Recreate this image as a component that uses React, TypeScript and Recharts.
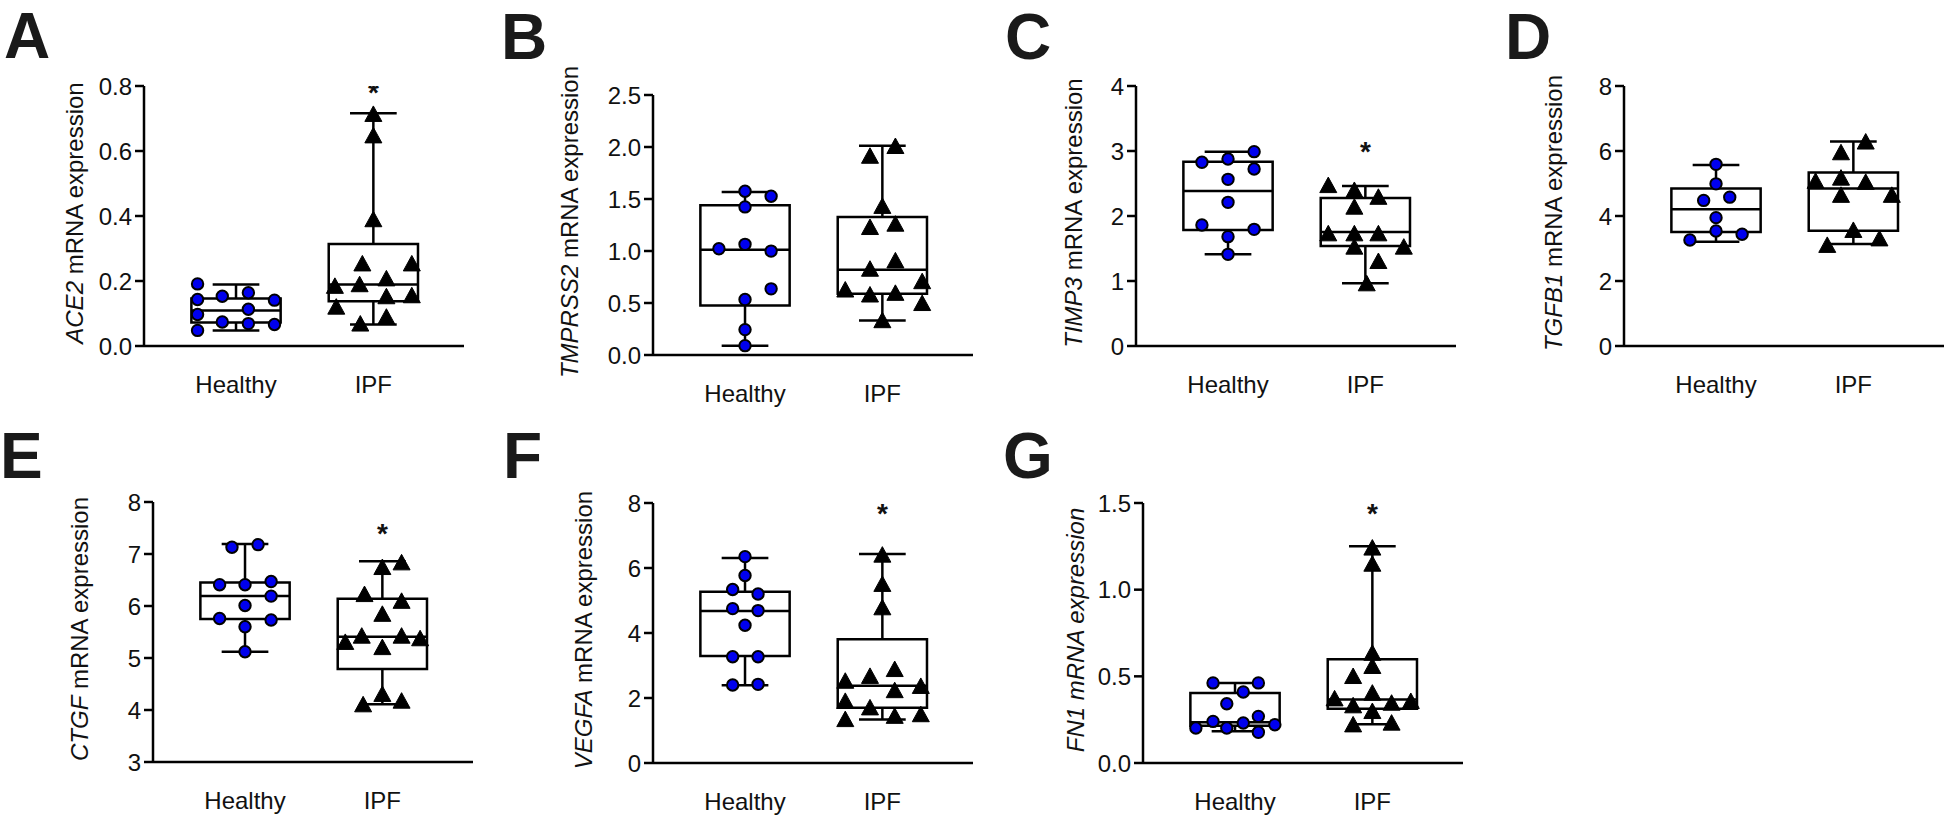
import { ScatterChart, Scatter, XAxis, YAxis, ReferenceArea, ReferenceLine } from 'recharts'

const groups = ['Healthy', 'IPF']

// ACE2
const ace2Healthy = [0.191, 0.143, 0.097, 0.048, 0.153, 0.074, 0.164, 0.113, 0.069, 0.141, 0.066]
const ace2HealthySpread = [-0.28, -0.28, -0.28, -0.28, -0.1, -0.1, 0.09, 0.09, 0.09, 0.28, 0.28]
const ace2Ipf = [0.711, 0.645, 0.387, 0.251, 0.251, 0.182, 0.187, 0.205, 0.15, 0.153, 0.118, 0.087, 0.066]
const ace2IpfSpread = [0, 0, 0, -0.08, 0.28, -0.28, -0.1, 0.095, 0.095, 0.28, -0.27, 0.095, -0.095]
const ace2HealthyBox = [0.048, 0.072, 0.109, 0.146, 0.189]
const ace2IpfBox = [0.066, 0.138, 0.189, 0.314, 0.716]
const ace2Ticks = [0, 0.2, 0.4, 0.6, 0.8]

// TMPRSS2
const tmprss2Healthy = [1.575, 1.526, 1.424, 1.022, 1.064, 0.999, 0.636, 0.533, 0.244, 0.09]
const tmprss2HealthySpread = [0, 0.19, 0, -0.19, 0, 0.19, 0.19, 0, 0, 0]
const tmprss2Ipf = [2.0, 1.906, 1.424, 1.221, 1.253, 0.9, 0.82, 0.62, 0.7, 0.572, 0.588, 0.49, 0.325]
const tmprss2IpfSpread = [0.095, -0.09, 0, -0.09, 0.095, 0.095, -0.09, -0.27, 0.29, -0.09, 0.095, 0.29, 0]
const tmprss2HealthyBox = [0.09, 0.476, 1.012, 1.44, 1.568]
const tmprss2IpfBox = [0.331, 0.588, 0.819, 1.327, 2.012]
const tmprss2Ticks = [0, 0.5, 1, 1.5, 2, 2.5]

// TIMP3
const timp3Healthy = [2.99, 2.826, 2.877, 2.723, 2.564, 2.21, 1.862, 1.795, 1.682, 1.41]
const timp3HealthySpread = [0.19, -0.19, 0, 0.19, 0, 0, -0.19, 0.19, 0, 0]
const timp3Ipf = [2.46, 2.385, 2.28, 2.128, 1.718, 1.718, 1.718, 1.513, 1.513, 1.292, 0.949]
const timp3IpfSpread = [-0.27, -0.08, 0.095, -0.08, -0.27, -0.08, 0.095, -0.08, 0.28, 0.095, 0.01]
const timp3HealthyBox = [1.41, 1.785, 2.385, 2.836, 2.99]
const timp3IpfBox = [0.964, 1.538, 1.754, 2.277, 2.46]
const timp3Ticks = [0, 1, 2, 3, 4]

// TGFB1
const tgfb1Healthy = [5.59, 4.99, 4.48, 4.58, 3.95, 3.54, 3.44, 3.26]
const tgfb1HealthySpread = [0, 0, -0.09, 0.1, 0, 0, 0.19, -0.19]
const tgfb1Ipf = [6.26, 5.93, 5.05, 5.15, 5.02, 4.62, 4.62, 3.54, 3.08, 3.28]
const tgfb1IpfSpread = [0.09, -0.09, -0.275, -0.09, 0.09, -0.09, 0.28, 0, -0.19, 0.19]
const tgfb1HealthyBox = [3.21, 3.51, 4.205, 4.85, 5.57]
const tgfb1IpfBox = [3.14, 3.55, 4.85, 5.34, 6.29]
const tgfb1Ticks = [0, 2, 4, 6, 8]

// CTGF
const ctgfHealthy = [7.13, 7.18, 6.41, 6.41, 6.47, 6.19, 6.01, 5.76, 5.73, 5.6, 5.12]
const ctgfHealthySpread = [-0.095, 0.095, -0.185, 0, 0.19, 0.19, 0, -0.185, 0.19, 0, 0]
const ctgfIpf = [6.82, 6.73, 6.21, 6.08, 5.83, 5.41, 5.41, 5.29, 5.36, 5.19, 4.29, 4.09, 4.16]
const ctgfIpfSpread = [0.14, 0, -0.13, 0.14, 0, -0.15, 0.14, -0.27, 0.275, 0, 0, -0.14, 0.14]
const ctgfHealthyBox = [5.12, 5.75, 6.19, 6.45, 7.19]
const ctgfIpfBox = [4.11, 4.79, 5.41, 6.14, 6.86]
const ctgfTicks = [3, 4, 5, 6, 7, 8]

// VEGFA
const vegfaHealthy = [6.35, 5.77, 5.34, 5.2, 4.75, 4.69, 4.24, 3.27, 3.27, 2.4, 2.42]
const vegfaHealthySpread = [0, 0, -0.09, 0.095, -0.09, 0.095, 0, -0.09, 0.095, -0.09, 0.095]
const vegfaIpf = [6.38, 5.48, 4.76, 2.5, 2.65, 2.86, 2.21, 2.34, 1.88, 1.68, 1.32, 1.42, 1.47]
const vegfaIpfSpread = [0, 0, 0, -0.27, -0.09, 0.09, 0.09, 0.28, -0.27, -0.09, -0.27, 0.09, 0.28]
const vegfaHealthyBox = [2.39, 3.29, 4.68, 5.27, 6.31]
const vegfaIpfBox = [1.34, 1.7, 2.38, 3.81, 6.43]
const vegfaTicks = [0, 2, 4, 6, 8]

// FN1
const fn1Healthy = [0.462, 0.462, 0.41, 0.342, 0.269, 0.24, 0.231, 0.202, 0.202, 0.221, 0.177]
const fn1HealthySpread = [-0.16, 0.17, 0.06, -0.06, 0.17, -0.16, 0.06, -0.285, -0.06, 0.29, 0.17]
const fn1Ipf = [1.237, 1.144, 0.63, 0.554, 0.496, 0.367, 0.4, 0.352, 0.327, 0.342, 0.294, 0.217, 0.227]
const fn1IpfSpread = [0, 0, 0, 0, -0.14, -0.275, 0, 0.28, -0.14, 0.14, 0, -0.14, 0.14]
const fn1HealthyBox = [0.183, 0.215, 0.235, 0.404, 0.462]
const fn1IpfBox = [0.223, 0.313, 0.367, 0.598, 1.25]
const fn1Ticks = [0, 0.5, 1, 1.5]

const FONT = "'Liberation Sans', Arial, Helvetica, sans-serif"
const INK = '#111'
const BLUE = '#0000ee'
const LINE = 2.5
const Y_W = 80
const X_H = 50
const PLOT_W = 320
const PLOT_H = 260
const BOX_HALF = 0.325
const CAP_HALF = 0.17

const toPoints = (values: number[], spread: number[], group: number) =>
  values.map((y, i) => ({ x: group + spread[i], y }))

const panels = [
  { letter: 'A', gene: 'ACE2', allItalic: false, healthy: toPoints(ace2Healthy, ace2HealthySpread, 1), ipf: toPoints(ace2Ipf, ace2IpfSpread, 2), hBox: ace2HealthyBox, iBox: ace2IpfBox, ticks: ace2Ticks, dec: 1, star: 0.796,
    ox: 0, oy: 0, w: 490, h: 410, left: 144, top: 86, labelOff: 70, lx: 4, ly: 4 },
  { letter: 'B', gene: 'TMPRSS2', allItalic: false, healthy: toPoints(tmprss2Healthy, tmprss2HealthySpread, 1), ipf: toPoints(tmprss2Ipf, tmprss2IpfSpread, 2), hBox: tmprss2HealthyBox, iBox: tmprss2IpfBox, ticks: tmprss2Ticks, dec: 1, star: null,
    ox: 490, oy: 0, w: 490, h: 410, left: 653, top: 95, labelOff: 84, lx: 501, ly: 5 },
  { letter: 'C', gene: 'TIMP3', allItalic: false, healthy: toPoints(timp3Healthy, timp3HealthySpread, 1), ipf: toPoints(timp3Ipf, timp3IpfSpread, 2), hBox: timp3HealthyBox, iBox: timp3IpfBox, ticks: timp3Ticks, dec: 0, star: 3.07,
    ox: 980, oy: 0, w: 490, h: 410, left: 1136, top: 86, labelOff: 63, lx: 1005, ly: 5 },
  { letter: 'D', gene: 'TGFB1', allItalic: false, healthy: toPoints(tgfb1Healthy, tgfb1HealthySpread, 1), ipf: toPoints(tgfb1Ipf, tgfb1IpfSpread, 2), hBox: tgfb1HealthyBox, iBox: tgfb1IpfBox, ticks: tgfb1Ticks, dec: 0, star: null,
    ox: 1460, oy: 0, w: 486, h: 410, left: 1624, top: 86, labelOff: 71, lx: 1505, ly: 5 },
  { letter: 'E', gene: 'CTGF', allItalic: false, healthy: toPoints(ctgfHealthy, ctgfHealthySpread, 1), ipf: toPoints(ctgfIpf, ctgfIpfSpread, 2), hBox: ctgfHealthyBox, iBox: ctgfIpfBox, ticks: ctgfTicks, dec: 0, star: 7.5,
    ox: 0, oy: 400, w: 490, h: 419, left: 153, top: 502, labelOff: 74, lx: 0, ly: 424 },
  { letter: 'F', gene: 'VEGFA', allItalic: false, healthy: toPoints(vegfaHealthy, vegfaHealthySpread, 1), ipf: toPoints(vegfaIpf, vegfaIpfSpread, 2), hBox: vegfaHealthyBox, iBox: vegfaIpfBox, ticks: vegfaTicks, dec: 0, star: 7.85,
    ox: 490, oy: 400, w: 490, h: 419, left: 653, top: 503, labelOff: 70, lx: 503, ly: 424 },
  { letter: 'G', gene: 'FN1', allItalic: true, healthy: toPoints(fn1Healthy, fn1HealthySpread, 1), ipf: toPoints(fn1Ipf, fn1IpfSpread, 2), hBox: fn1HealthyBox, iBox: fn1IpfBox, ticks: fn1Ticks, dec: 1, star: 1.47,
    ox: 980, oy: 400, w: 490, h: 419, left: 1143, top: 503, labelOff: 68, lx: 1003, ly: 424 },
]

const Dot = (props: any) => (
  <circle cx={props.cx} cy={props.cy} r={5.7} fill={BLUE} stroke="#000" strokeWidth={2} />
)

const Tri = (props: any) => {
  const { cx, cy } = props
  return <polygon points={`${cx},${cy - 9} ${cx - 8.5},${cy + 6.5} ${cx + 8.5},${cy + 6.5}`} fill="#000" stroke="#000" strokeWidth={1} strokeLinejoin="round" />
}

const Star = (props: any) => (
  <text x={props.cx} y={props.cy + 15} textAnchor="middle" fontSize={28} fontWeight="bold" fontFamily={FONT} fill={INK}>*</text>
)

function boxParts(g: number, b: number[]) {
  const [min, q1, med, q3, max] = b
  const seg = (x1: number, y1: number, x2: number, y2: number, k: string) => (
    <ReferenceLine key={k} segment={[{ x: x1, y: y1 }, { x: x2, y: y2 }]} stroke="#000" strokeWidth={LINE} ifOverflow="visible" />
  )
  return [
    <ReferenceArea key={`box${g}`} x1={g - BOX_HALF} x2={g + BOX_HALF} y1={q1} y2={q3} fill="none" fillOpacity={0} stroke="#000" strokeWidth={LINE} ifOverflow="visible" />,
    seg(g - BOX_HALF, med, g + BOX_HALF, med, `med${g}`),
    seg(g, q3, g, max, `up${g}`),
    seg(g, q1, g, min, `lo${g}`),
    seg(g - CAP_HALF, max, g + CAP_HALF, max, `capHi${g}`),
    seg(g - CAP_HALF, min, g + CAP_HALF, min, `capLo${g}`),
  ]
}

function YTitle({ viewBox, gene, allItalic, off }: any) {
  const cx = viewBox.x + viewBox.width - off
  const cy = viewBox.y + viewBox.height / 2 - 3
  return (
    <text x={cx} y={cy} transform={`rotate(-90 ${cx} ${cy})`} textAnchor="middle" dominantBaseline="central" fontSize={24} fontFamily={FONT} fill={INK}>
      <tspan fontStyle="italic">{gene}</tspan>
      <tspan fontStyle={allItalic ? 'italic' : 'normal'}> mRNA expression</tspan>
    </text>
  )
}

function Panel({ p }: any) {
  const margin = {
    top: p.top - p.oy,
    left: p.left - p.ox - Y_W,
    right: p.w - (p.left - p.ox + PLOT_W),
    bottom: p.h - (p.top - p.oy + PLOT_H) - X_H,
  }
  const domain = [p.ticks[0], p.ticks[p.ticks.length - 1]]
  return (
    <div style={{ position: 'absolute', left: p.ox, top: p.oy, width: p.w, height: p.h }}>
      <ScatterChart width={p.w} height={p.h} margin={margin}>
        <XAxis
          type="number"
          dataKey="x"
          domain={[0.33, 2.66]}
          ticks={[1, 2]}
          allowDataOverflow
          tickFormatter={(v: number) => groups[v - 1]}
          axisLine={{ stroke: '#000', strokeWidth: LINE }}
          tickLine={false}
          tickSize={0}
          tickMargin={30}
          height={X_H}
          tick={{ fill: INK, fontSize: 24, fontFamily: FONT }}
        />
        <YAxis
          type="number"
          dataKey="y"
          domain={domain}
          ticks={p.ticks}
          interval={0}
          allowDataOverflow
          tickFormatter={(v: number) => v.toFixed(p.dec)}
          axisLine={{ stroke: '#000', strokeWidth: LINE }}
          tickLine={{ stroke: '#000', strokeWidth: LINE }}
          tickSize={9}
          tickMargin={3}
          width={Y_W}
          tick={{ fill: INK, fontSize: 24, fontFamily: FONT }}
          label={{ content: (lp: any) => <YTitle viewBox={lp.viewBox} gene={p.gene} allItalic={p.allItalic} off={p.labelOff} /> }}
        />
        {boxParts(1, p.hBox)}
        {boxParts(2, p.iBox)}
        <Scatter data={p.healthy} shape={Dot} isAnimationActive={false} />
        <Scatter data={p.ipf} shape={Tri} isAnimationActive={false} />
        {p.star !== null && <Scatter data={[{ x: 2, y: p.star }]} shape={Star} isAnimationActive={false} />}
      </ScatterChart>
    </div>
  )
}

export default function App() {
  return (
    <div style={{ position: 'absolute', left: 0, top: 0, width: 1946, height: 819, background: '#fff', fontFamily: FONT }}>
      {panels.map((p) => (
        <Panel key={p.letter} p={p} />
      ))}
      {panels.map((p) => (
        <div key={`l${p.letter}`} style={{ position: 'absolute', left: p.lx, top: p.ly, fontSize: 64, lineHeight: '64px', fontWeight: 'bold', color: '#1a1a1a' }}>
          {p.letter}
        </div>
      ))}
    </div>
  )
}
